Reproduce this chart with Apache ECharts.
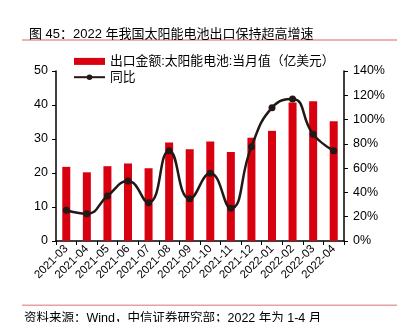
<!DOCTYPE html>
<html>
<head>
<meta charset="utf-8">
<script src="https://cdn.jsdelivr.net/npm/echarts@6/dist/echarts.min.js"></script>
<style>
  html, body { margin: 0; padding: 0; background: #fff; }
  #chart { width: 397px; height: 322px; }
</style>
</head>
<body>
<div id="chart"></div>
<script>
// Monthly solar cell exports
const months = ['2021-03','2021-04','2021-05','2021-06','2021-07','2021-08','2021-09',
                '2021-10','2021-11','2021-12','2022-01','2022-02','2022-03','2022-04'];
// Export value, monthly (100 million USD)
const exportValue = [21.8, 20.2, 22.0, 22.8, 21.4, 29.0, 27.0, 29.3, 26.2, 30.4, 32.4, 40.7, 41.1, 35.2];
// Year-on-year growth (%)
const yoyGrowth = [25.3, 22.5, 37.0, 49.4, 31.6, 74.4, 34.8, 55.7, 26.9, 77.7, 109.8, 117.0, 87.9, 74.4];
const leftTicks = [0, 10, 20, 30, 40, 50];
const rightTicks = [0, 20, 40, 60, 80, 100, 120, 140];

const FONT = '"Liberation Sans", Arial, "Noto Sans CJK SC", sans-serif';
const chart = echarts.init(document.getElementById('chart'), null, { renderer: 'canvas' });

chart.setOption({
  animation: false,
  backgroundColor: '#fff',
  textStyle: { fontFamily: FONT },
  title: {
    text: '图 45：2022 年我国太阳能电池出口保持超高增速',
    left: 24, top: 23,
    textStyle: { fontSize: 13, fontWeight: 'normal', color: '#000', fontFamily: FONT }
  },
  graphic: [
    { type: 'rect', shape: { x: 22, y: 39.5, width: 375, height: 1 }, style: { fill: '#E06666' } },
    { type: 'rect', shape: { x: 22, y: 304.5, width: 375, height: 1.5 }, style: { fill: '#E8A0A0' } },
    { type: 'text', left: 24, top: 312,
      style: { text: '资料来源：Wind，中信证券研究部；2022 年为 1-4 月', fontSize: 12.5, fill: '#000', fontFamily: FONT } }
  ],
  legend: {
    orient: 'vertical',
    left: 68, top: 50,
    itemGap: 3,
    itemWidth: 31, itemHeight: 7,
    textStyle: { fontSize: 12.8, color: '#000', fontFamily: FONT },
    data: [
      { name: '出口金额:太阳能电池:当月值（亿美元）', icon: 'rect' },
      { name: '同比' }
    ]
  },
  grid: { left: 56, right: 53, top: 71, bottom: 81 },
  xAxis: {
    type: 'category',
    data: months,
    axisLine: { lineStyle: { color: '#000', width: 1.5 } },
    axisTick: { show: true, length: 4, lineStyle: { color: '#000' } },
    axisLabel: { rotate: 45, fontSize: 11.5, color: '#000', margin: 6, interval: 0 }
  },
  yAxis: [
    {
      type: 'value', min: 0, max: 50, interval: 10,
      axisLine: { show: true, lineStyle: { color: '#000', width: 1.5 } },
      axisTick: { show: true, length: 4, lineStyle: { color: '#000' } },
      splitLine: { show: false },
      axisLabel: { fontSize: 12.5, color: '#000', margin: 8,
        formatter: v => leftTicks.includes(v) ? String(v) : '' }
    },
    {
      type: 'value', min: 0, max: 140, interval: 20,
      axisLine: { show: true, lineStyle: { color: '#000', width: 1.5 } },
      axisTick: { show: true, length: 4, lineStyle: { color: '#000' } },
      splitLine: { show: false },
      axisLabel: { fontSize: 12.5, color: '#000', margin: 9,
        formatter: v => rightTicks.includes(v) ? v + '%' : '' }
    }
  ],
  series: [
    {
      name: '出口金额:太阳能电池:当月值（亿美元）',
      type: 'bar',
      yAxisIndex: 0,
      data: exportValue,
      barWidth: 8,
      itemStyle: { color: '#D9000F' }
    },
    {
      name: '同比',
      type: 'line',
      yAxisIndex: 1,
      data: yoyGrowth,
      smooth: 0.5,
      symbol: 'circle',
      symbolSize: 7,
      lineStyle: { color: '#231815', width: 2.5 },
      itemStyle: { color: '#231815' }
    }
  ]
});
</script>
</body>
</html>
